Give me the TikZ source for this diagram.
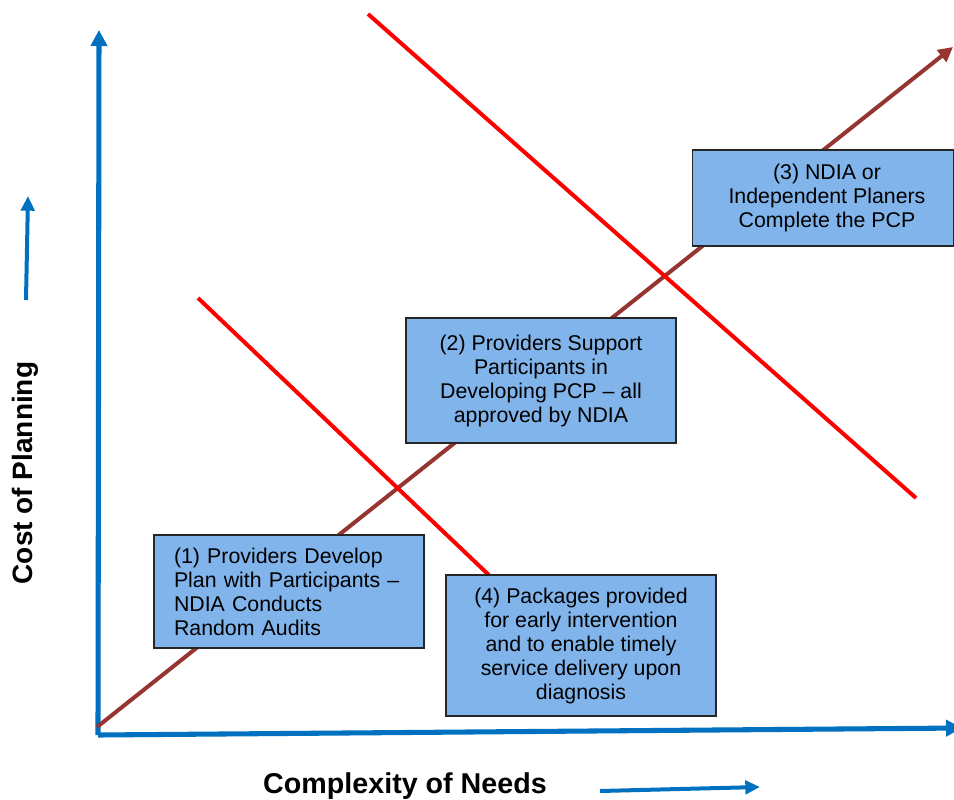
\documentclass[tikz,border=0pt]{standalone}
\usepackage{fontspec}
\setmainfont{Liberation Sans}
\usepackage{tikz}
\usetikzlibrary{arrows.meta, positioning, calc}
\usepackage{xcolor}
\definecolor{axisblue}{RGB}{0,112,192}
\definecolor{trendred}{RGB}{150,52,48}
\definecolor{boxblue}{RGB}{128,180,234}

\begin{document}
\begin{tikzpicture}[
    x=0.75pt, y=-0.75pt,
    axis/.style = {draw=axisblue, line width=3.8pt, -{Triangle[length=12pt, width=12pt]}},
    hint/.style = {draw=axisblue, line width=3pt, -{Triangle[length=11pt, width=10pt]}},
    trend/.style = {draw=trendred, line width=3pt, -{Triangle[length=11pt, width=11pt]}},
    cutline/.style = {draw=red, line width=3pt},
    box/.style = {rectangle, draw=black!85, fill=boxblue, line width=0.8pt, align=center, font=\fontsize{16}{18}\selectfont, minimum width=202.5pt, inner sep=0pt},
    axislabel/.style = {font=\bfseries\fontsize{20}{24}\selectfont}
]
\useasboundingbox (0,0) rectangle (954,800);

% Axes
\coordinate (origin) at (98,735);
\coordinate (ytop) at (99,30);
\coordinate (xright) at (962,728);
\draw [axis] (origin) -- (ytop);
\draw [axis] (origin) -- (xright);

% Trend arrow
\coordinate (trendstart) at (97,727);
\coordinate (trendend) at (953,47);
\draw [trend] (trendstart) -- (trendend);

% Red dividers
\coordinate (upperstart) at (368,14);
\coordinate (upperend) at (916,498);
\coordinate (lowerstart) at (198,298);
\coordinate (lowerend) at (492,578);
\draw [cutline] (upperstart) -- (upperend);
\draw [cutline] (lowerstart) -- (lowerend);

% Boxes
\node (pcpNdia) [box, minimum width=196pt, minimum height=72pt, at={(823,198)}] {\hspace*{6pt}(3) NDIA or\\\hspace*{6pt}Independent Planers\\\hspace*{6pt}Complete the PCP};
\node (pcpSupport) [box, minimum height=93.75pt, at={(541,380.5)}] {(2) Providers Support\\Participants in\\Developing PCP -- all\\approved by NDIA};
\node (pcpDevelop) [box, minimum height=84.75pt, align=left, text width=172.5pt, inner xsep=15pt, at={(289,591.5)}] {(1) Providers Develop\\Plan with Participants --\\NDIA Conducts\\Random Audits};
\node (packages) [box, minimum height=105.75pt, at={(581,645.5)}] {(4) Packages provided\\for early intervention\\and to enable timely\\service delivery upon\\diagnosis};

% Axis labels and hint arrows
\node (costlabel) [axislabel, font=\bfseries\fontsize{21}{25}\selectfont, rotate=90, at={(25,473)}] {Cost of Planning};
\node (needslabel) [axislabel, font=\bfseries\fontsize{21.5}{26}\selectfont, at={(405,786)}] {Complexity of Needs};
\coordinate (upstart) at (26,300);
\coordinate (upend) at (28,196);
\coordinate (rightstart) at (600,791);
\coordinate (rightend) at (760,787);
\draw [hint] (upstart) -- (upend);
\draw [hint] (rightstart) -- (rightend);

\end{tikzpicture}
\end{document}
